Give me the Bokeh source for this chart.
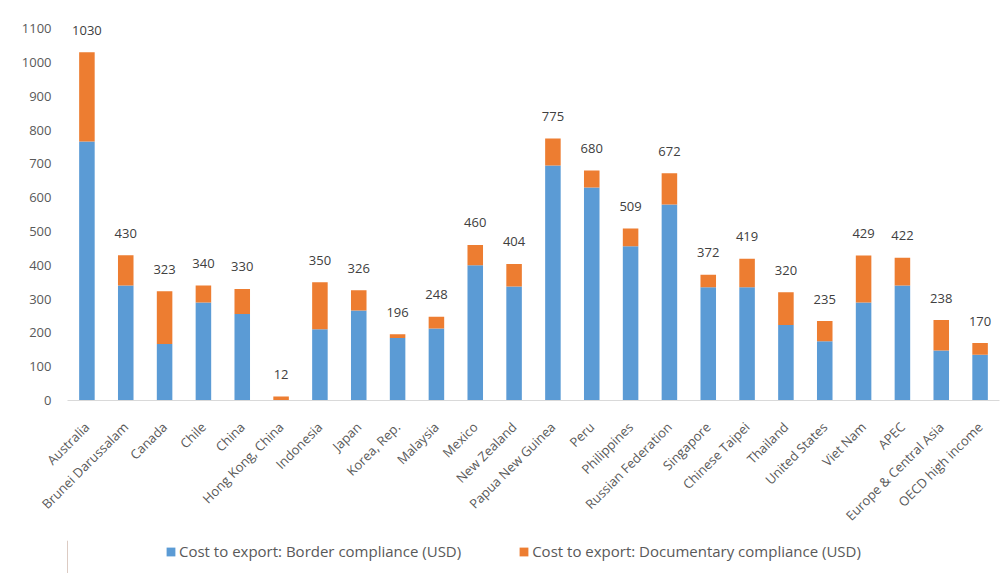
import math
from bokeh.plotting import figure
from bokeh.layouts import column
from bokeh.models import (Range1d, FactorRange, FixedTicker, Legend, LegendItem, ColumnDataSource,
                          Plot, VBar)
from bokeh.core.properties import value
from bokeh.embed import file_html
from bokeh.resources import INLINE

categories = ["Australia", "Brunei Darussalam", "Canada", "Chile", "China", "Hong Kong, China",
              "Indonesia", "Japan", "Korea, Rep.", "Malaysia", "Mexico", "New Zealand",
              "Papua New Guinea", "Peru", "Philippines", "Russian Federation", "Singapore",
              "Chinese Taipei", "Thailand", "United States", "Viet Nam", "APEC",
              "Europe & Central Asia", "OECD high income"]
border_compliance = [766, 340, 167, 290, 256, 0, 211, 266, 185, 213, 400, 337,
                     695, 630, 456, 580, 335, 335, 223, 175, 290, 340, 148, 135]
documentary_compliance = [264, 90, 156, 50, 74, 12, 139, 60, 11, 35, 60, 67,
                          80, 50, 53, 92, 37, 84, 97, 60, 139, 82, 90, 35]
series_names = ["Cost to export: Border compliance (USD)",
                "Cost to export: Documentary compliance (USD)"]
y_ticks = list(range(0, 1101, 100))

BLUE = "#5B9BD5"
ORANGE = "#ED7D31"
FONT = "Open Sans"

totals = [b + d for b, d in zip(border_compliance, documentary_compliance)]
src = ColumnDataSource(dict(cat=categories, border=border_compliance, doc=documentary_compliance,
                            total=totals, label=[str(t) for t in totals]))

p = figure(x_range=FactorRange(factors=categories), y_range=Range1d(0, 1130),
           width=1000, height=540, output_backend="svg", toolbar_location=None,
           min_border_left=67, min_border_right=1, min_border_top=18, min_border_bottom=140)

rs = p.vbar_stack(["border", "doc"], x="cat", width=0.4, color=[BLUE, ORANGE],
                  line_width=0, source=src)

p.text(x="cat", y="total", text="label", source=src, text_align="center",
       text_baseline="alphabetic", y_offset=-22, text_font=value(FONT),
       text_font_size="13px", text_color="#404040")

p.xgrid.visible = False
p.ygrid.visible = False
p.outline_line_color = None

p.yaxis.ticker = FixedTicker(ticks=y_ticks)
p.yaxis.axis_line_color = None
p.yaxis.major_tick_line_color = None
p.yaxis.minor_tick_line_color = None
p.yaxis.major_label_standoff = 10
p.yaxis.major_label_text_font = FONT
p.yaxis.major_label_text_font_size = "13px"
p.yaxis.major_label_text_color = "#595959"

p.xaxis.axis_line_color = "#D9D9D9"
p.xaxis.axis_line_width = 1
p.xaxis.major_tick_line_color = None
p.xaxis.minor_tick_line_color = None
p.xaxis.major_label_orientation = math.pi / 4
p.xaxis.major_label_standoff = 18
p.xaxis.major_label_text_font = FONT
p.xaxis.major_label_text_font_size = "13px"
p.xaxis.major_label_text_color = "#595959"

# legend strip below the chart: a bare Plot (no axes/grids); proxy glyphs lie outside its range
leg = Plot(width=1000, height=33, output_backend="svg", toolbar_location=None,
           x_range=Range1d(0, 1), y_range=Range1d(0, 1), min_border=0,
           outline_line_color=None)
proxy_src = ColumnDataSource(dict(x=[-10], top=[1]))
lr1 = leg.add_glyph(proxy_src, VBar(x="x", top="top", width=0.4, fill_color=BLUE, line_color=None))
lr2 = leg.add_glyph(proxy_src, VBar(x="x", top="top", width=0.4, fill_color=ORANGE, line_color=None))
legend = Legend(items=[LegendItem(label=series_names[0], renderers=[lr1]),
                       LegendItem(label=series_names[1], renderers=[lr2])],
                orientation="horizontal", location=(98, 12), border_line_color=None,
                background_fill_alpha=0, glyph_width=11, glyph_height=11, spacing=57,
                label_text_font=FONT, label_text_font_size="15px", label_text_color="#595959",
                label_standoff=3, padding=0, margin=0)
leg.add_layout(legend, "center")

layout = column(p, leg, spacing=0)
open("out.html", "w").write(file_html(layout, INLINE))
